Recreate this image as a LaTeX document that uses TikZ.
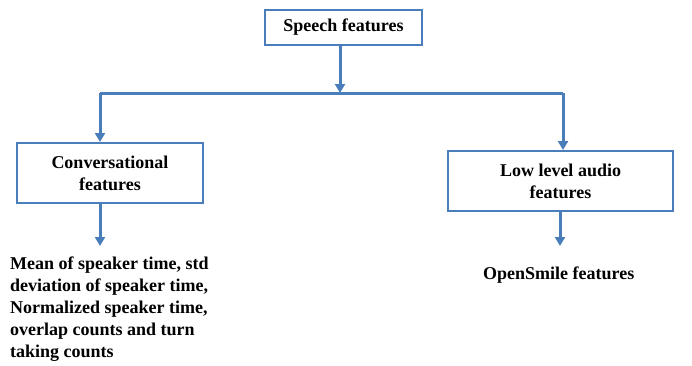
\documentclass[tikz,border=0pt]{standalone}
\usepackage{fontspec}
\setmainfont{Liberation Serif}
\usetikzlibrary{arrows.meta}
\definecolor{lineblue}{RGB}{74,126,187}
\begin{document}
\begin{tikzpicture}[x=1pt,y=-1pt,
  box/.style={draw=lineblue,line width=2pt,fill=white,align=center,font=\bfseries\fontsize{18}{22}\selectfont,inner sep=0pt},
  conn/.style={draw=lineblue,line width=3pt},
  arr/.style={conn,-{Triangle[width=10pt,length=9pt]}},
  txt/.style={font=\bfseries\fontsize{18}{22}\selectfont,align=left,inner sep=0pt}]
\useasboundingbox (0,0) rectangle (692,365);
\node[box,minimum width=157pt,minimum height=35pt] (sp) at (343.5,27.5) {Speech features};
\node[box,minimum width=186pt,minimum height=60pt] (cv) at (110,173) {Conversational\\features};
\node[box,minimum width=225pt,minimum height=60pt] (ll) at (560.5,181) {Low level audio\\features};
\coordinate (j) at (340,93);
\coordinate (jl) at (100,93);
\coordinate (jr) at (563,93);
\coordinate (ea) at (100,246);
\coordinate (eb) at (560,246);
\node[txt,anchor=north west] (mt) at (10,257) {Mean of speaker time, std\\deviation of speaker time,\\Normalized speaker time,\\overlap counts and turn\\taking counts};
\node[txt,anchor=north west] (os) at (483,267) {OpenSmile features};
\draw[arr] (sp.south -| j) -- (j);
\draw[conn] (jl) -- (jr);
\draw[arr] (jl) -- (cv.north -| jl);
\draw[arr] (jr) -- (ll.north -| jr);
\draw[arr] (cv.south -| ea) -- (ea);
\draw[arr] (ll.south -| eb) -- (eb);
\end{tikzpicture}
\end{document}
